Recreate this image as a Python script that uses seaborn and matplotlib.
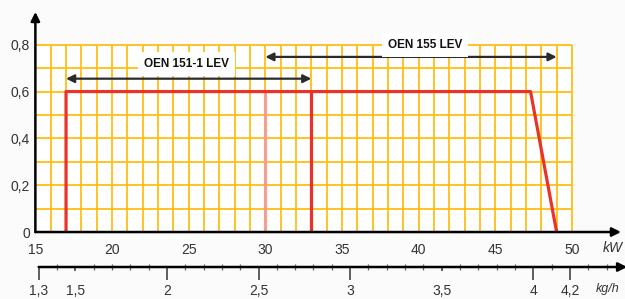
import matplotlib
matplotlib.use("Agg")
import matplotlib.pyplot as plt
import seaborn as sns
import numpy as np
import pandas as pd

# ==================== DATA ====================
kw_ticks = [15, 20, 25, 30, 35, 40, 45, 50]
y_ticks = [0, 0.2, 0.4, 0.6, 0.8]
y_labels = ["0", "0,2", "0,4", "0,6", "0,8"]

kg_ticks = [1.3, 1.5, 2, 2.5, 3, 3.5, 4, 4.2]
kg_labels = ["1,3", "1,5", "2", "2,5", "3", "3,5", "4", "4,2"]

curve_kw = [17, 17, 47.3, 49]
curve_val = [0, 0.6, 0.6, 0]
split_kw = 33        # end of OEN 151-1 LEV
light_kw = 30        # start of OEN 155 LEV
range_151 = (17, 33)
range_155 = (30, 49)

# kW = 11.95 * kg/h - 0.32
def kw2kg(kw):
    return (np.asarray(kw) + 0.32) / 11.95

sns.set_style("white")
plt.rcParams["font.family"] = ["Liberation Sans", "DejaVu Sans"]

GRID = "#FFBE14"
RED = "#E8332B"
TXT = "#333333"

fig = plt.figure(figsize=(6.25, 2.99), dpi=100, facecolor="#fbfbfb")
left, width = 0.0566, 0.937
ax = fig.add_axes([left, 0.224, width, 0.736])
ax.set_facecolor("none")
x_max, y_max = 53.2, 0.94
ax.set_xlim(15, x_max)
ax.set_ylim(0, y_max)
for s in ax.spines.values():
    s.set_visible(False)

# white paper + grid
ax.fill_between([15, 50], 0, 0.8, color="white", zorder=0)
ax.vlines(np.arange(16, 51), 0, 0.8, color=GRID, lw=1.3, zorder=1)
ax.hlines(np.arange(1, 9) / 10, 15, 50, color=GRID, lw=1.3, zorder=1)

# capacity curve
curve = pd.DataFrame({"kW": curve_kw, "val": curve_val})
sns.lineplot(data=curve, x="kW", y="val", sort=False, estimator=None,
             color=RED, lw=2.3, ax=ax, zorder=3)
sns.lineplot(x=[split_kw, split_kw], y=[0, 0.6], estimator=None, sort=False,
             color=RED, lw=2.3, ax=ax, zorder=3)
sns.lineplot(x=[light_kw, light_kw], y=[0, 0.6], estimator=None, sort=False,
             color="#F3A08E", lw=2.3, ax=ax, zorder=2)

# range arrows and labels
arrow = dict(arrowstyle="<|-|>", color="#2b2b2b", lw=1.6, mutation_scale=12,
             shrinkA=0, shrinkB=0)
ax.annotate("", xy=(range_151[1], 0.655), xytext=(range_151[0], 0.655),
            arrowprops=arrow, zorder=4)
ax.annotate("", xy=(range_155[1], 0.748), xytext=(range_155[0], 0.748),
            arrowprops=arrow, zorder=4)
box = dict(boxstyle="square,pad=0.5", facecolor="white", edgecolor="none")
ax.text(24.85, 0.718, "OEN 151-1 LEV", ha="center", va="center", fontsize=8.5,
        fontweight="bold", color="#111111", bbox=box, zorder=5)
ax.text(40.4, 0.80, "OEN 155 LEV", ha="center", va="center", fontsize=8.5,
        fontweight="bold", color="#111111", bbox=box, zorder=5)

# axes with arrows
axis_arrow = dict(arrowstyle="-|>", color="black", lw=1.8, mutation_scale=13,
                  shrinkA=0, shrinkB=0)
ax.annotate("", xy=(15, y_max), xytext=(15, 0), arrowprops=axis_arrow,
            annotation_clip=False, zorder=6)
ax.annotate("", xy=(x_max, 0), xytext=(15, 0), arrowprops=axis_arrow,
            annotation_clip=False, zorder=6)

ax.set_xticks(kw_ticks)
ax.set_xticklabels([str(k) for k in kw_ticks])
ax.set_yticks(y_ticks)
ax.set_yticklabels(y_labels)
ax.tick_params(axis="both", length=0, labelsize=10, labelcolor=TXT)
ax.tick_params(axis="x", pad=8)
ax.tick_params(axis="y", pad=4)
ax.set_xlabel("")
ax.set_ylabel("")
fig.text(0.964, 0.170, "kW", fontsize=10, style="italic", color=TXT,
         ha="left", va="center")

# kg/h scale
ax2 = fig.add_axes([left, 0.107, width, 0.0001])
ax2.set_facecolor("none")
ax2.set_xlim(kw2kg(15), kw2kg(x_max))
ax2.set_yticks([])
for s in ax2.spines.values():
    s.set_visible(False)
ax2.annotate("", xy=(kw2kg(53.6), 0), xytext=(1.3, 0), arrowprops=axis_arrow,
             annotation_clip=False)
ax2.set_xticks(kg_ticks)
ax2.set_xticklabels(kg_labels)
ax2.set_xticks(np.round(np.arange(1.4, 4.45, 0.1), 2), minor=True)
ax2.tick_params(axis="x", which="major", bottom=True, direction="out", length=9,
                width=1.2, color="#444444", labelsize=10, labelcolor=TXT, pad=3)
ax2.tick_params(axis="x", which="minor", bottom=True, direction="inout",
                length=5, width=0.9, color="#666666")
for i, t in enumerate(ax2.xaxis.get_major_ticks()):
    if kg_ticks[i] in (1.5, 3.5):
        t.tick1line.set_markersize(3)
fig.text(0.953, 0.032, "kg/h", fontsize=9, style="italic", color=TXT,
         ha="left", va="center")

fig.savefig("out.png", dpi=100, facecolor=fig.get_facecolor())
